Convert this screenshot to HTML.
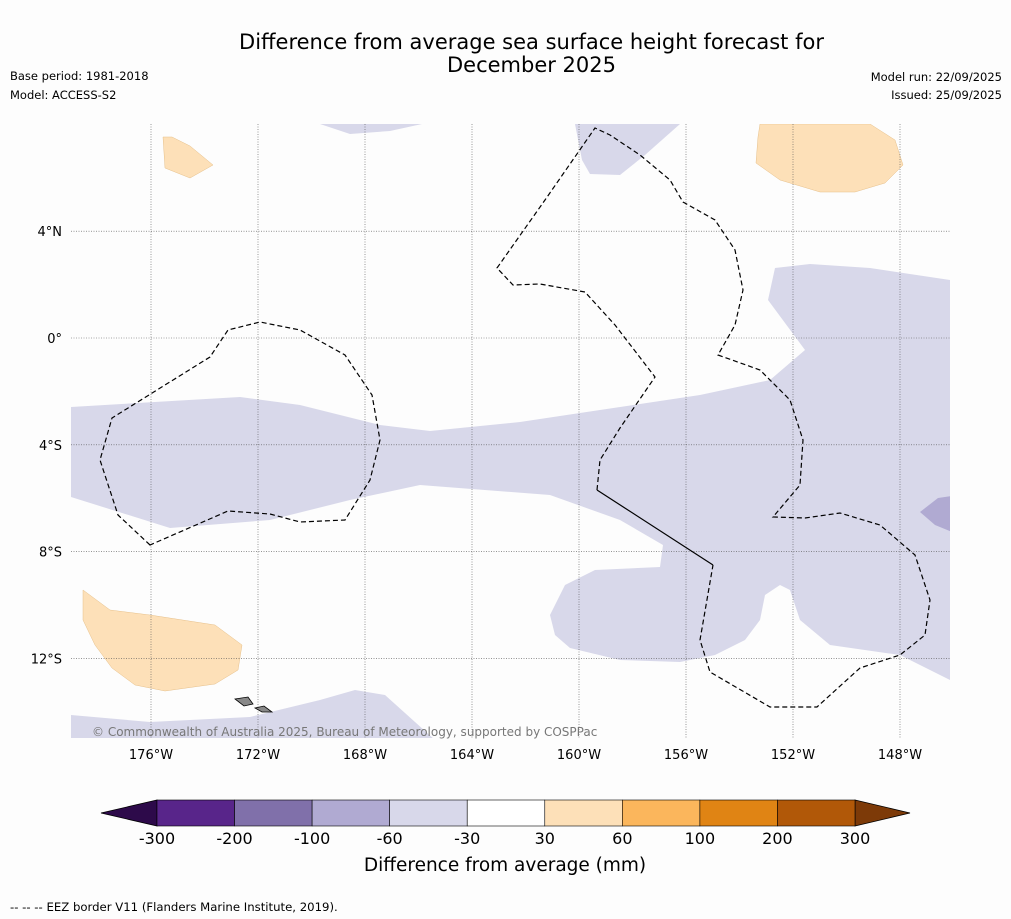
<!DOCTYPE html>
<html><head><meta charset="utf-8"><style>
body{margin:0;background:#fdfdfd;font-family:"DejaVu Sans","Liberation Sans",sans-serif;}
#wrap{position:relative;width:1011px;height:919px;overflow:hidden;background:#fdfdfd}
.t{position:absolute;font-size:11.5px;color:#000;white-space:nowrap}
svg text{font-family:"DejaVu Sans","Liberation Sans",sans-serif;}
</style></head><body>
<div id="wrap">
<div class="t" style="left:0;width:1063px;top:31px;text-align:center;font-size:21px;line-height:23px">Difference from average sea surface height forecast for<br>December 2025</div>
<div class="t" style="left:10px;top:69px">Base period: 1981-2018</div>
<div class="t" style="left:10px;top:88px">Model: ACCESS-S2</div>
<div class="t" style="right:9px;top:70px">Model run: 22/09/2025</div>
<div class="t" style="right:9px;top:88px">Issued: 25/09/2025</div>
<svg id="map" width="1011" height="919" style="position:absolute;left:0;top:0">
<defs><clipPath id="mc"><rect x="71" y="124" width="879" height="614"/></clipPath></defs>
<g clip-path="url(#mc)">
<path fill="#d8d8ea" d="M71,407 L240,397 L300,405 L380,425 L430,431 L520,422 L600,410 L700,395 L770,380 L805,350 L768,300 L775,268 L810,264 L870,268 L950,280 L950,680 L900,655 L830,645 L800,620 L790,590 L780,585 L765,595 L760,620 L745,640 L715,655 L680,662 L620,660 L570,648 L555,635 L550,615 L565,585 L595,570 L660,567 L663,545 L620,520 L550,495 L420,485 L350,500 L270,520 L170,528 L71,497 Z"/>
<path fill="#d8d8ea" d="M575,124 L680,124 L645,155 L620,175 L590,174 L582,160 Z"/>
<path fill="#d8d8ea" d="M320,124 L422,124 L390,131 L350,134 Z"/>
<path fill="#d8d8ea" d="M71,715 L150,722 L250,717 L320,700 L355,690 L385,695 L435,740 L71,740 Z"/>
<path fill="#b0aad2" d="M920,512 L938,498 L952,496 L952,532 L935,525 Z"/>
<path fill="#fde0b8" stroke="#e6c08a" stroke-width="0.5" d="M163,137 L172,137 L190,146 L213,165 L190,178 L165,168 Z"/>
<path fill="#fde0b8" stroke="#e6c08a" stroke-width="0.5" d="M760,124 L870,124 L895,140 L903,165 L885,183 L855,192 L820,192 L780,180 L756,163 L758,137 Z"/>
<path fill="#fde0b8" stroke="#e6c08a" stroke-width="0.5" d="M83,590 L110,610 L150,615 L215,625 L242,645 L238,670 L215,684 L165,691 L135,685 L112,668 L95,645 L83,620 Z"/>
<g id="grid"></g>
<path fill="none" stroke="#000" stroke-width="1.2" stroke-dasharray="5,3" d="M150,545 L118,515 L100,460 L112,418 L210,357 L228,330 L260,322 L300,330 L345,355 L372,395 L380,440 L370,480 L345,520 L300,522 L270,514 L228,511 Z"/>
<path fill="none" stroke="#000" stroke-width="1.2" stroke-dasharray="5,3" d="M597,490 L600,460 L620,428 L655,377 L615,325 L585,292 L540,284 L513,285 L497,268 L545,200 L595,128 L610,135 L640,155 L670,180 L683,202 L715,220 L735,250 L743,290 L735,325 L718,355 L760,370 L790,400 L803,440 L800,485 L773,517 L805,518 L840,513 L880,525 L915,555 L930,600 L925,635 L900,655 L860,668 L817,707 L770,707 L710,672 L700,640 L713,565"/>
<path fill="none" stroke="#000" stroke-width="1.2" d="M597,490 L713,565"/>
<path fill="#888" stroke="#000" stroke-width="0.8" d="M235,699 L248,697 L253,704 L244,706 Z"/>
<path fill="#888" stroke="#000" stroke-width="0.8" d="M255,708 L264,706 L272,712 L262,712 Z"/>
</g>
<text x="92" y="736" font-size="12" fill="#777">© Commonwealth of Australia 2025, Bureau of Meteorology, supported by COSPPac</text>
<g id="axes"></g>
<g id="cbar"></g>
<text x="505" y="871" font-size="18.5" text-anchor="middle">Difference from average (mm)</text>
<text x="10" y="911" font-size="11.7">--  --  -- EEZ border V11 (Flanders Marine Institute, 2019).</text>
</svg>
</div>
<script>
const lonTicks=[-176,-172,-168,-164,-160,-156,-152,-148];
const latTicks=[4,0,-4,-8,-12];
const cbLevels=[-300,-200,-100,-60,-30,30,60,100,200,300];
const cbColors=["#58258a","#8070aa","#b0aad2","#d8d8ea","#ffffff","#fde0b8","#fbb65c","#e08414","#b15808"];
const cbUnder="#2d0a4a", cbOver="#7d3a08";
const NS="http://www.w3.org/2000/svg";
function xLon(l){return 151+(l+176)*26.75;}
function yLat(l){return 338-l*26.7;}
function mk(t,a,p){const e=document.createElementNS(NS,t);for(const k in a)e.setAttribute(k,a[k]);p.appendChild(e);return e;}
const grid=document.getElementById('grid'),axes=document.getElementById('axes');
lonTicks.forEach(l=>{
 const g=mk('line',{x1:xLon(l),x2:xLon(l),y1:124,y2:738,stroke:'#555','stroke-width':0.6,'stroke-dasharray':'1,1.5'},grid);
 
 
 const t=mk('text',{x:xLon(l),y:759,'font-size':13,'text-anchor':'middle'},axes);
 t.textContent=Math.abs(l)+'°W';
 
 
});
latTicks.forEach(l=>{
 const g=mk('line',{x1:71,x2:950,y1:yLat(l),y2:yLat(l),stroke:'#555','stroke-width':0.6,'stroke-dasharray':'1,1.5'},grid);
 
 
 const t=mk('text',{x:62,y:yLat(l)+5,'font-size':13,'text-anchor':'end'},axes);
 t.textContent=l===0?'0°':Math.abs(l)+'°'+(l>0?'N':'S');
 
 
});
const cb=document.getElementById('cbar');
const cx0=157,cx1=855,cy=800,ch=26,n=cbColors.length,w=(cx1-cx0)/n;
function xCb(i){return cx0+i*w;}
const u=mk('polygon',{points:`101,${cy+ch/2} ${cx0},${cy} ${cx0},${cy+ch}`,fill:cbUnder,stroke:'#000','stroke-width':0.8},cb);


const o=mk('polygon',{points:`910,${cy+ch/2} ${cx1},${cy} ${cx1},${cy+ch}`,fill:cbOver,stroke:'#000','stroke-width':0.8},cb);


cbColors.forEach((c,i)=>{
 const r=mk('rect',{x:xCb(i),y:cy,width:w,height:ch,fill:c,stroke:'#000','stroke-width':0.6},cb);
 
 
});
cbLevels.forEach((v,i)=>{
 const t=mk('text',{x:xCb(i),y:844,'font-size':16,'text-anchor':'middle'},cb);
 t.textContent=v;
 
 
});
</script>
</body></html>
